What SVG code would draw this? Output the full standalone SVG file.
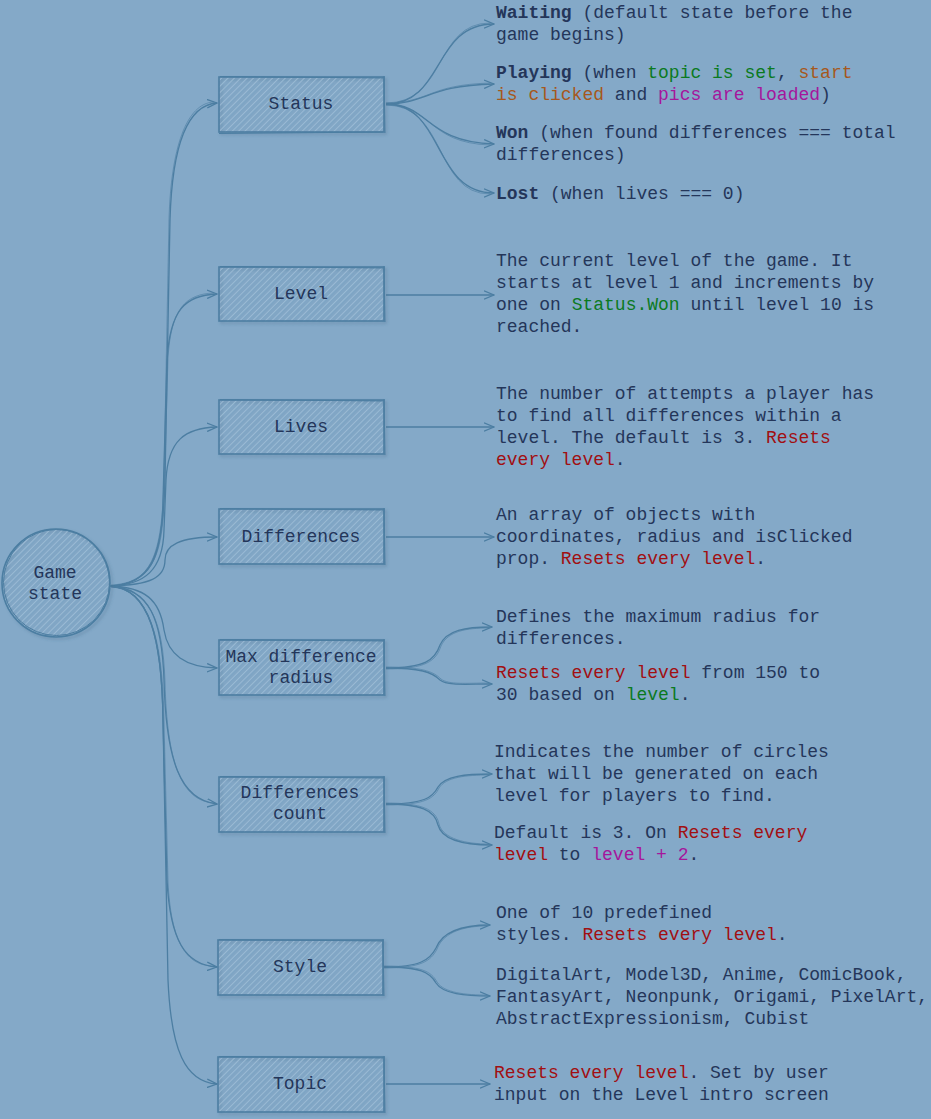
<svg xmlns="http://www.w3.org/2000/svg" width="931" height="1119" viewBox="0 0 931 1119">
<defs>
<pattern id="hatch" width="4.5" height="4.5" patternUnits="userSpaceOnUse" patternTransform="rotate(45)">
<line x1="0" y1="0" x2="0" y2="4.5" stroke="#a8c6dc" stroke-width="1.1"/>
</pattern>
<filter id="sh" x="-10%" y="-10%" width="130%" height="140%">
<feDropShadow dx="2" dy="2" stdDeviation="1.5" flood-color="#3e6480" flood-opacity="0.35"/>
</filter>
<marker id="ah" markerWidth="11" markerHeight="10" refX="10" refY="5" orient="auto" markerUnits="userSpaceOnUse">
<path d="M0,0.8 L10,5 L0,9.2" fill="none" stroke="#4c7ea2" stroke-width="1.3"/>
</marker>
</defs>
<style>
.bx{fill:url(#hatch);stroke:#4c7ea2;stroke-width:1.6}
.bx2{fill:none;stroke:#4c7ea2;stroke-width:1}
.c{fill:none;stroke:#4c7ea2;stroke-width:1.3}
.c2{fill:none;stroke:#4c7ea2;stroke-width:0.9;opacity:0.7}
text{font-family:"Liberation Mono","DejaVu Sans Mono",monospace;font-size:18px;fill:#24365a}
.lb{text-anchor:middle}
.b{font-weight:bold}
.r{fill:#a10f12}
.g{fill:#0b7a1f}
.o{fill:#a6581c}
.m{fill:#a5169c}
</style>
<rect x="0" y="0" width="931" height="1119" fill="#84a9c8"/>

<g id="connectors">
<path class="c" marker-end="url(#ah)" d="M110,586 C150,584 163,560 165,480 L170,220 C172,150 185,105 217,103"/>
<path class="c2" d="M111,585 C151,583 162,558 164,478 L169,219 C171,149 186,103 214,102"/>
<path class="c" marker-end="url(#ah)" d="M110,586 C150,584 162,560 163,500 L167,360 C170,310 185,295 217,294"/>
<path class="c2" d="M111,586 C151,583 163,558 164,498 L168,358 C171,308 186,294 214,293"/>
<path class="c" marker-end="url(#ah)" d="M110,586 C145,585 163,570 164,530 L166,480 C168,440 185,428 217,427"/>
<path class="c" marker-end="url(#ah)" d="M110,586 C150,585 165,578 165,560 C165,545 180,537 217,537"/>
<path class="c" marker-end="url(#ah)" d="M110,586 C145,587 160,600 164,630 C168,655 185,667 217,668"/>
<path class="c" marker-end="url(#ah)" d="M110,586 C150,588 162,620 164,680 C166,760 180,800 217,804"/>
<path class="c2" d="M111,587 C151,589 163,622 165,682 C167,762 181,801 214,803"/>
<path class="c" marker-end="url(#ah)" d="M110,586 C150,588 162,640 163,720 L167,880 C170,940 185,965 217,967"/>
<path class="c2" d="M111,587 C151,589 163,642 164,722 L168,882 C171,942 186,966 214,966"/>
<path class="c" marker-end="url(#ah)" d="M110,586 C150,588 162,640 163,720 L168,980 C171,1050 185,1082 217,1084"/>

<path class="c" marker-end="url(#ah)" d="M386,104 C445,104 432,24 494,24"/>
<path class="c2" d="M386,103 C447,103 434,23 490,23"/>
<path class="c" marker-end="url(#ah)" d="M386,104 C430,103 425,86 494,84"/>
<path class="c2" d="M386,103 C432,102 427,85 490,83"/>
<path class="c" marker-end="url(#ah)" d="M386,104 C430,104 425,142 494,144"/>
<path class="c2" d="M386,105 C432,105 427,143 490,145"/>
<path class="c" marker-end="url(#ah)" d="M386,104 C445,104 432,193 494,193"/>
<path class="c2" d="M386,105 C447,105 434,194 490,194"/>

<path class="c" marker-end="url(#ah)" d="M386,295 L494,295"/>
<path class="c" marker-end="url(#ah)" d="M386,427 L494,427"/>
<path class="c" marker-end="url(#ah)" d="M386,537 L494,537"/>

<path class="c" marker-end="url(#ah)" d="M386,668 C425,668 435,660 440,645 C447,630 465,627 492,627"/>
<path class="c2" d="M386,669 C426,669 436,661 441,646 C448,631 466,628 489,628"/>
<path class="c" marker-end="url(#ah)" d="M386,668 C420,668 432,672 440,680 C448,686 465,684 492,684"/>
<path class="c2" d="M386,667 C421,667 433,671 441,679 C449,685 466,683 489,683"/>

<path class="c" marker-end="url(#ah)" d="M386,804 C425,804 433,797 438,787 C445,776 465,774 492,774"/>
<path class="c2" d="M386,805 C426,805 434,798 439,788 C446,777 466,775 489,775"/>
<path class="c" marker-end="url(#ah)" d="M386,804 C420,804 435,810 438,825 C442,840 465,845 492,845"/>
<path class="c2" d="M386,803 C421,803 436,809 439,824 C443,839 466,844 489,844"/>

<path class="c" marker-end="url(#ah)" d="M384,967 C420,967 430,960 436,948 C443,930 465,925 490,925"/>
<path class="c2" d="M384,968 C421,968 431,961 437,949 C444,931 466,926 487,926"/>
<path class="c" marker-end="url(#ah)" d="M384,967 C420,967 430,972 436,983 C443,994 465,996 490,996"/>
<path class="c2" d="M384,966 C421,966 431,971 437,982 C444,993 466,995 487,995"/>

<path class="c" marker-end="url(#ah)" d="M386,1084 L490,1084"/>
</g>

<g id="game-state">
<circle cx="56" cy="583" r="54" class="bx" filter="url(#sh)"/>
<circle cx="56.5" cy="582.5" r="53" class="bx2"/>
<text x="55" y="578" class="lb">Game</text>
<text x="55" y="599" class="lb">state</text>
</g>

<g id="status">
<rect x="219" y="77" width="165" height="55" class="bx" filter="url(#sh)"/>
<path d="M220,76.5 L383,78 M384,76 L385,133 M383,132 L219,133.5" class="bx2"/>
<text x="301" y="109" class="lb">Status</text>
</g>
<g id="level">
<rect x="219" y="267" width="165" height="54" class="bx" filter="url(#sh)"/>
<path d="M220,266.5 L383,268 M384,266 L385,322" class="bx2"/>
<text x="301" y="299" class="lb">Level</text>
</g>
<g id="lives">
<rect x="219" y="400" width="165" height="54" class="bx" filter="url(#sh)"/>
<path d="M220,399.5 L383,401 M384,399 L385,455" class="bx2"/>
<text x="301" y="432" class="lb">Lives</text>
</g>
<g id="differences">
<rect x="219" y="509" width="165" height="55" class="bx" filter="url(#sh)"/>
<path d="M220,508.5 L383,510 M384,508 L385,565" class="bx2"/>
<text x="301" y="542" class="lb">Differences</text>
</g>
<g id="max-difference-radius">
<rect x="219" y="640" width="165" height="55" class="bx" filter="url(#sh)"/>
<path d="M220,639.5 L383,641 M384,639 L385,696" class="bx2"/>
<text x="301" y="662" class="lb">Max difference</text>
<text x="301" y="683" class="lb">radius</text>
</g>
<g id="differences-count">
<rect x="219" y="777" width="165" height="55" class="bx" filter="url(#sh)"/>
<path d="M220,776.5 L383,778 M384,776 L385,833" class="bx2"/>
<text x="300" y="798" class="lb">Differences</text>
<text x="300" y="819" class="lb">count</text>
</g>
<g id="style">
<rect x="218" y="940" width="165" height="55" class="bx" filter="url(#sh)"/>
<path d="M219,939.5 L382,941 M383,939 L384,996" class="bx2"/>
<text x="300" y="972" class="lb">Style</text>
</g>
<g id="topic">
<rect x="218" y="1057" width="166" height="55" class="bx" filter="url(#sh)"/>
<path d="M219,1056.5 L383,1058 M384,1056 L385,1113" class="bx2"/>
<text x="300" y="1089" class="lb">Topic</text>
</g>

<g id="status-notes">
<text x="496" y="18"><tspan class="b">Waiting</tspan> (default state before the</text>
<text x="496" y="40">game begins)</text>
<text x="496" y="78"><tspan class="b">Playing</tspan> (when <tspan class="g">topic is set</tspan>, <tspan class="o">start</tspan></text>
<text x="496" y="100"><tspan class="o">is clicked</tspan> and <tspan class="m">pics are loaded</tspan>)</text>
<text x="496" y="138"><tspan class="b">Won</tspan> (when found differences === total</text>
<text x="496" y="160">differences)</text>
<text x="496" y="199"><tspan class="b">Lost</tspan> (when lives === 0)</text>
</g>
<g id="level-note">
<text x="496" y="266">The current level of the game. It</text>
<text x="496" y="288">starts at level 1 and increments by</text>
<text x="496" y="310">one on <tspan class="g">Status.Won</tspan> until level 10 is</text>
<text x="496" y="332">reached.</text>
</g>
<g id="lives-note">
<text x="496" y="399">The number of attempts a player has</text>
<text x="496" y="421">to find all differences within a</text>
<text x="496" y="443">level. The default is 3. <tspan class="r">Resets</tspan></text>
<text x="496" y="465"><tspan class="r">every level</tspan>.</text>
</g>
<g id="differences-note">
<text x="496" y="520">An array of objects with</text>
<text x="496" y="542">coordinates, radius and isClicked</text>
<text x="496" y="564">prop. <tspan class="r">Resets every level</tspan>.</text>
</g>
<g id="max-radius-notes">
<text x="496" y="622">Defines the maximum radius for</text>
<text x="496" y="644">differences.</text>
<text x="496" y="678"><tspan class="r">Resets every level</tspan> from 150 to</text>
<text x="496" y="700">30 based on <tspan class="g">level</tspan>.</text>
</g>
<g id="count-notes">
<text x="494" y="757">Indicates the number of circles</text>
<text x="494" y="779">that will be generated on each</text>
<text x="494" y="801">level for players to find.</text>
<text x="494" y="838">Default is 3. On <tspan class="r">Resets every</tspan></text>
<text x="494" y="860"><tspan class="r">level</tspan> to <tspan class="m">level + 2</tspan>.</text>
</g>
<g id="style-notes">
<text x="496" y="918">One of 10 predefined</text>
<text x="496" y="940">styles. <tspan class="r">Resets every level</tspan>.</text>
<text x="496" y="980">DigitalArt, Model3D, Anime, ComicBook,</text>
<text x="496" y="1002">FantasyArt, Neonpunk, Origami, PixelArt,</text>
<text x="496" y="1024">AbstractExpressionism, Cubist</text>
</g>
<g id="topic-note">
<text x="494" y="1078"><tspan class="r">Resets every level</tspan>. Set by user</text>
<text x="494" y="1100">input on the Level intro screen</text>
</g>
</svg>
